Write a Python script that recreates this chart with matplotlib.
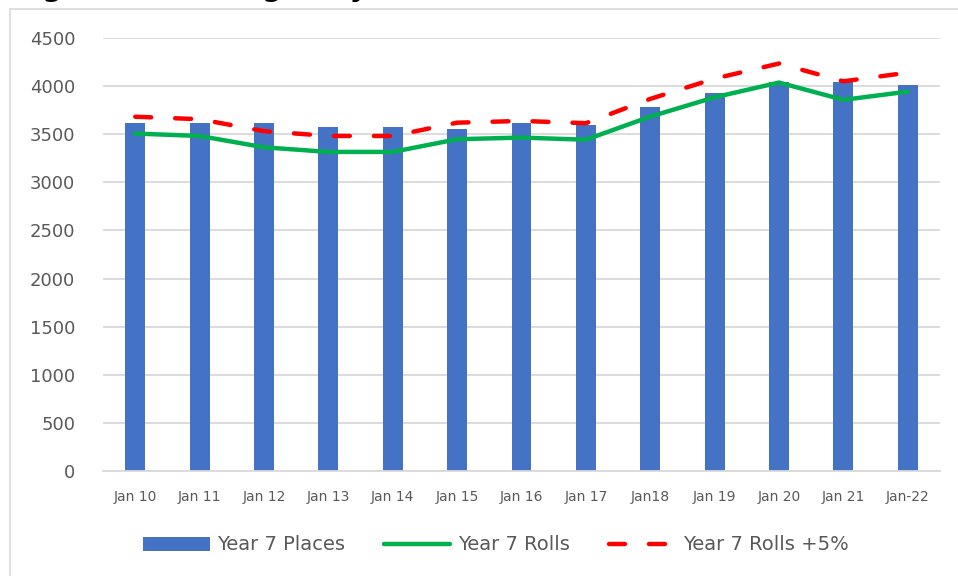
import numpy as np
import matplotlib.pyplot as plt
from matplotlib.patches import Rectangle

# Data
years = ["Jan 10", "Jan 11", "Jan 12", "Jan 13", "Jan 14", "Jan 15", "Jan 16",
         "Jan 17", "Jan18", "Jan 19", "Jan 20", "Jan 21", "Jan-22"]
places = [3620, 3620, 3620, 3579, 3579, 3558, 3620, 3600, 3784, 3929, 4040, 4038, 4013]
rolls = [3507, 3482, 3364, 3316, 3316, 3448, 3465, 3443, 3683, 3884, 4037, 3857, 3943]
rolls_plus5 = [3682, 3656, 3532, 3482, 3482, 3620, 3638, 3615, 3867, 4078, 4235, 4050, 4140]

BLUE = "#4472C4"
GREEN = "#00B050"
RED = "#FF0000"
GREY_TXT = "#595959"

fig = plt.figure(figsize=(9.58, 5.76), dpi=100)
ax = fig.add_axes([103 / 958, 1 - 471 / 576, (940 - 103) / 958, (471 - 38) / 576])

x = np.arange(len(years))
h_bar = ax.bar(x, places, width=0.31, color=BLUE, label="Year 7 Places", zorder=2)
h_roll, = ax.plot(x, rolls, color=GREEN, lw=3.2, label="Year 7 Rolls", zorder=3,
                  solid_capstyle="round", solid_joinstyle="round")
h_plus, = ax.plot(x, rolls_plus5, color=RED, lw=3.2, label="Year 7 Rolls +5%", zorder=4,
                  linestyle=(0, (3.6, 5.4)), dash_capstyle="round")

ax.set_xlim(-0.5, len(years) - 0.5)
ax.set_ylim(0, 4500)
ax.set_yticks(np.arange(0, 4501, 500))
ax.set_xticks(x)
ax.set_xticklabels(years)
ax.grid(axis="y", color="#D9D9D9", lw=1.3, zorder=0)
ax.set_axisbelow(True)
for s in ["left", "right", "top"]:
    ax.spines[s].set_visible(False)
ax.spines["bottom"].set_color("#D9D9D9")
ax.spines["bottom"].set_linewidth(1.3)
ax.tick_params(axis="both", length=0)
ax.tick_params(axis="y", labelsize=13, labelcolor=GREY_TXT, pad=20)
ax.tick_params(axis="x", labelsize=10, labelcolor=GREY_TXT, pad=14)

fig.legend([h_bar, h_roll, h_plus], ["Year 7 Places", "Year 7 Rolls", "Year 7 Rolls +5%"],
           loc="center", bbox_to_anchor=(0.5 + 17 / 958, 1 - 545 / 576), ncol=3,
           frameon=False, fontsize=14, labelcolor=GREY_TXT,
           handlelength=3.4, handletextpad=0.4, columnspacing=2.0)

# chart border
fig.patches.append(Rectangle((10 / 958, -0.1), 1.2, 1 - 9 / 576 + 0.1,
                             transform=fig.transFigure, fill=False,
                             edgecolor="#D9D9D9", lw=1.2))

# title, clipped at the top of the image as in the original
fig.text(14 / 958, 1 + 4 / 576, "Figure 10: Change in year 7 rolls 2010-2022",
         fontsize=20, fontweight="bold", va="baseline", ha="left", color="black")

fig.savefig("out.png", dpi=100)
